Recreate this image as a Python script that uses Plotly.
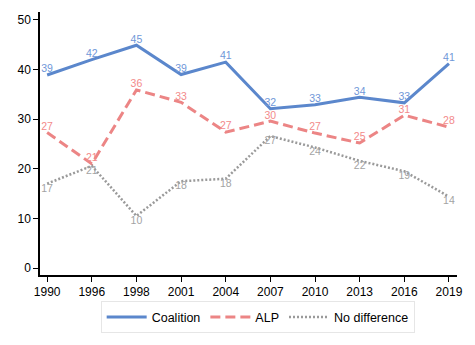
import plotly.graph_objects as go

years = ["1990", "1996", "1998", "2001", "2004", "2007", "2010", "2013", "2016", "2019"]
coalition = [38.9, 42.0, 44.9, 39.0, 41.5, 32.1, 32.9, 34.4, 33.3, 41.2]
alp = [27.3, 21.0, 35.9, 33.4, 27.4, 29.6, 27.2, 25.2, 30.8, 28.4]
no_diff = [17.0, 20.6, 10.5, 17.5, 18.0, 26.6, 24.3, 21.6, 19.5, 14.4]
coalition_labels = ["39", "42", "45", "39", "41", "32", "33", "34", "33", "41"]
alp_labels = ["27", "21", "36", "33", "27", "30", "27", "25", "31", "28"]
no_diff_labels = ["17", "21", "10", "18", "18", "27", "24", "22", "19", "14"]
y_ticks = [0, 10, 20, 30, 40, 50]

fig = go.Figure()
fig.add_trace(go.Scatter(
    x=years, y=coalition, name="Coalition", mode="lines+text",
    line=dict(color="#5b87cc", width=3),
    text=coalition_labels, textposition="top center",
    textfont=dict(color="#6f97d8", size=10.5, family="Liberation Sans"),
))
fig.add_trace(go.Scatter(
    x=years, y=alp, name="ALP", mode="lines+text",
    line=dict(color="#ec8585", width=3, dash="10px,5px"),
    text=alp_labels, textposition="top center",
    textfont=dict(color="#f38a8a", size=10.5, family="Liberation Sans"),
))
fig.add_trace(go.Scatter(
    x=years, y=no_diff, name="No difference", mode="lines+text",
    line=dict(color="#9a9a9a", width=2.5, dash="2px,2px"),
    text=no_diff_labels, textposition="bottom center",
    textfont=dict(color="#a3a3a3", size=10.5, family="Liberation Sans"),
))

fig.update_layout(
    width=475, height=345,
    margin=dict(l=40, r=12, t=12, b=66),
    plot_bgcolor="white", paper_bgcolor="white",
    font=dict(family="Liberation Sans", size=12, color="black"),
    showlegend=True,
    legend=dict(orientation="h", x=0.522, xanchor="center", y=-0.1, yanchor="top",
                bordercolor="#e6e6e6", borderwidth=1, font=dict(size=12.5),
                itemwidth=40),
    xaxis=dict(type="category", range=[-0.16, 9.18], showgrid=False, zeroline=False,
               showline=True, linecolor="black", linewidth=1.5,
               ticks="outside", ticklen=5, tickcolor="black", tickwidth=1.2),
    yaxis=dict(range=[-1.4, 51.6], tickvals=y_ticks, showgrid=False, zeroline=False,
               showline=True, linecolor="black", linewidth=1.5,
               ticks="outside", ticklen=5, tickcolor="black", tickwidth=1.2),
)

fig.write_html("out.html")
